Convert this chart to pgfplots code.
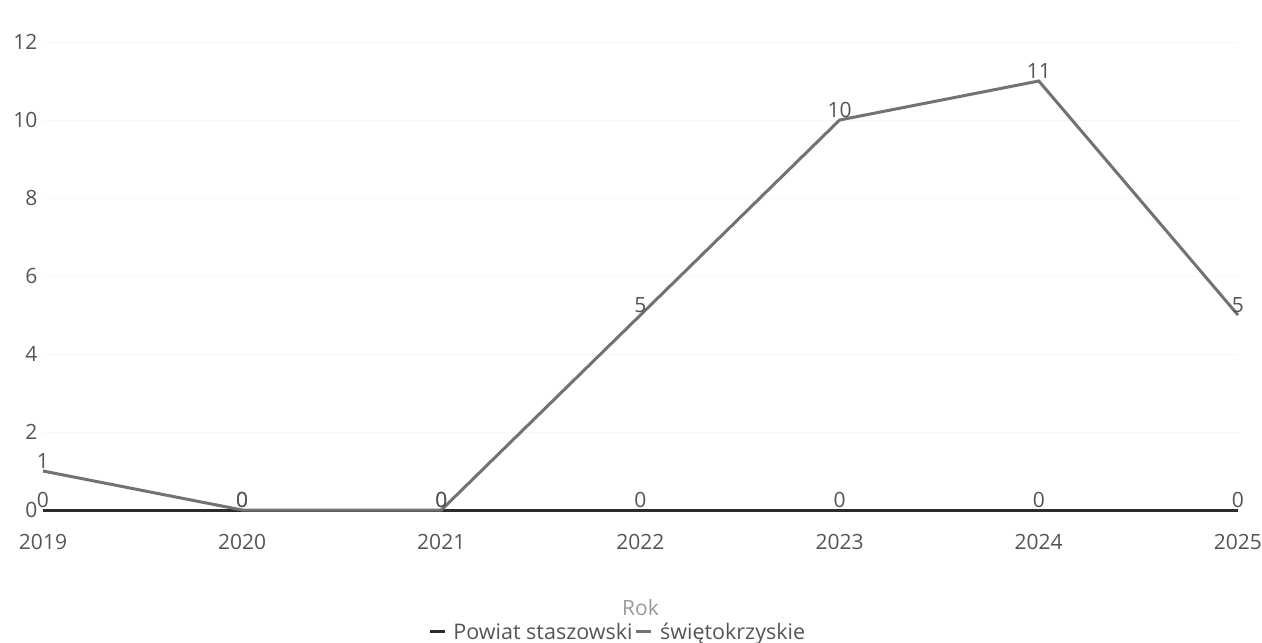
\documentclass[border=0pt]{standalone}
\usepackage{pgfplots}
\pgfplotsset{compat=1.18}
\usepackage{fontspec}
\setmainfont{Open Sans}
\definecolor{darkline}{HTML}{2B2B2B}
\definecolor{grayline}{HTML}{727272}
\definecolor{ticktext}{HTML}{555555}
\definecolor{rokcol}{HTML}{9A9A9A}
\begin{document}
\begin{tikzpicture}[x=1pt,y=1pt]
\path[use as bounding box] (0,0) rectangle (1262,643);
\begin{axis}[
  at={(43pt,133pt)}, anchor=south west,
  scale only axis, width=1195pt, height=468pt,
  xmin=2019, xmax=2025, ymin=0, ymax=12,
  xtick={2019,...,2025}, ytick={0,2,...,12},
  axis line style={draw=none},
  tick style={draw=none},
  ymajorgrids, grid style={black!3, line width=0.8pt},
  /pgf/number format/assume math mode=true,
  /pgf/number format/1000 sep={},
  ticklabel style={font=\fontsize{21}{25}\selectfont, text=ticktext},
  yticklabel style={xshift=-2pt},
  xticklabel style={yshift=-21pt},
  xlabel={Rok},
  xlabel style={font=\fontsize{21}{25}\selectfont, text=rokcol, yshift=-43pt},
  clip=false,
  legend style={at={(0.4808,-0.26)}, anchor=center, draw=none, fill=none,
    font=\fontsize{21.5}{25}\selectfont, text=ticktext, legend columns=2,
    /tikz/every even column/.append style={column sep=0pt}},
  legend image code/.code={\draw[#1, line width=3.5pt] (0pt,0pt) -- (15pt,0pt);},
  nodes near coords={\pgfmathprintnumber{\pgfplotspointmeta}},
  every node near coord/.append style={font=\fontsize{21}{25}\selectfont, text=ticktext, anchor=south, inner sep=1pt},
]
\addplot[darkline, line width=3pt, mark=none] coordinates {
  (2019,0) (2020,0) (2021,0) (2022,0) (2023,0) (2024,0) (2025,0)};
\addlegendentry{\hspace{5pt}Powiat staszowski}
\addplot[grayline, line width=3pt, mark=none] coordinates {
  (2019,1) (2020,0) (2021,0) (2022,5) (2023,10) (2024,11) (2025,5)};
\addlegendentry{\hspace{5pt}świętokrzyskie}
\end{axis}
\end{tikzpicture}
\end{document}
